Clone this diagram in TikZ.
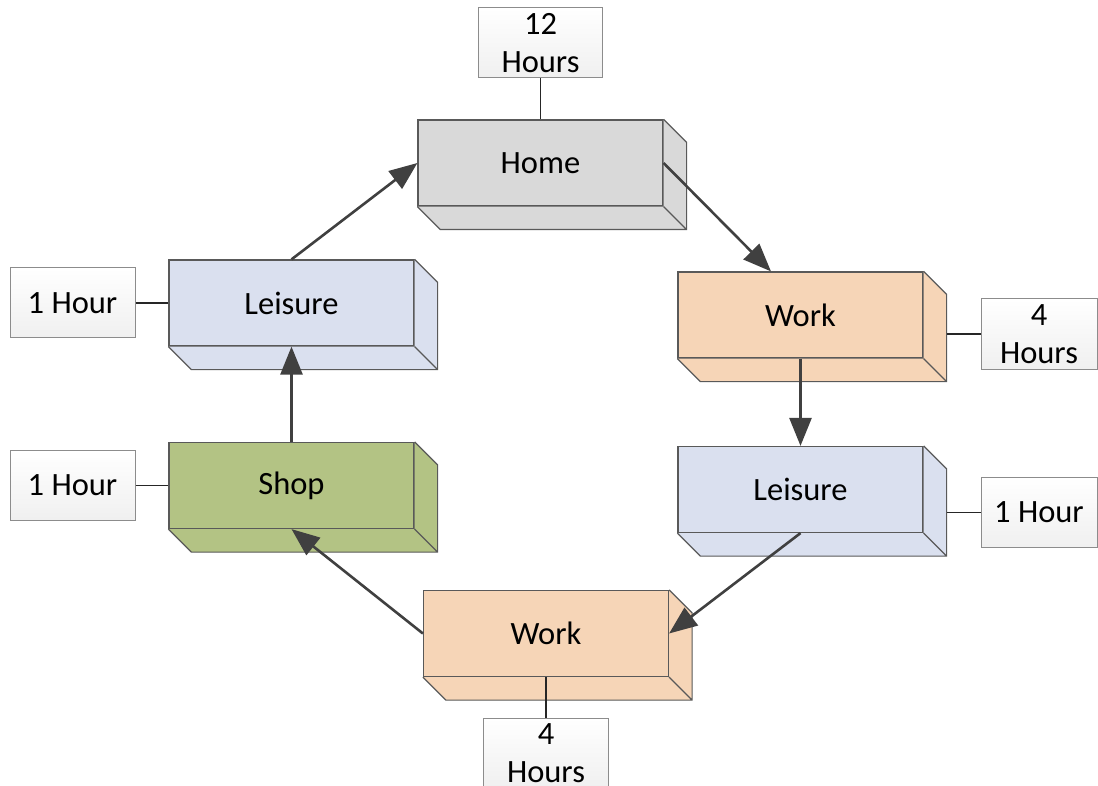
\documentclass[tikz,border=0pt]{standalone}
\usepackage{fontspec}
\setmainfont{Carlito}
\usetikzlibrary{arrows.meta,calc}
\definecolor{homefill}{HTML}{D9D9D9}
\definecolor{leisfill}{HTML}{DAE0EF}
\definecolor{shopfill}{HTML}{B3C384}
\definecolor{workfill}{HTML}{F6D5B7}
\definecolor{edge}{HTML}{595959}
\definecolor{tagedge}{HTML}{8C8C8C}
\definecolor{flow}{HTML}{404040}
\tikzset{
  block/.style={draw=edge, line width=1.2pt, fill=#1, minimum width=245pt,
    minimum height=86pt, inner sep=0pt, font=\fontsize{32.5}{38}\selectfont},
  tag/.style={draw=tagedge, line width=1pt, top color=white, bottom color=black!6,
    minimum width=124pt, minimum height=70pt, inner sep=0pt, align=center,
    font=\fontsize{32.5}{38}\selectfont},
  flowarrow/.style={draw=flow, line width=2.6pt,
    -{Triangle[length=28pt,width=22pt]}},
  tagline/.style={draw=black!85, line width=1.8pt},
}
% extruded faces (bottom and right) of a block node
\newcommand{\extrude}[2]{%
  \fill[#2] (#1.south west) -- ++(23,23) -- ($(#1.south east)+(23,23)$) --
    ($(#1.north east)+(23,23)$) -- (#1.north east) -- (#1.south east) -- cycle;
  \draw[edge, line width=1.2pt, line join=miter]
    (#1.south west) -- ++(23,23) -- ($(#1.south east)+(23,23)$) --
    ($(#1.north east)+(23,23)$) -- (#1.north east)
    (#1.south east) -- ++(23,23);
}
\begin{document}
\begin{tikzpicture}[x=1pt,y=-1pt]
\useasboundingbox (0,0) rectangle (1098,786);

% activity blocks
\node[block=homefill] (home)  at (540.5,163)   {Home};
\node[block=leisfill] (leisL) at (291.5,303)   {Leisure};
\node[block=shopfill] (shop)  at (291.5,485.5) {Shop};
\node[block=workfill] (workR) at (800.5,315)   {Work};
\node[block=leisfill] (leisR) at (800.5,489.5) {Leisure};
\node[block=workfill] (workB) at (546,633.5)   {Work};

\extrude{home}{homefill}
\extrude{leisL}{leisfill}
\extrude{shop}{shopfill}
\extrude{workR}{workfill}
\extrude{leisR}{leisfill}
\extrude{workB}{workfill}

% duration tags
\node[tag] (t12) at (540.5,43)     {12\\Hours};
\node[tag, minimum width=125pt] (t1a) at (72.5,303)   {1 Hour};
\node[tag, minimum width=125pt] (t1b) at (72.5,485.5) {1 Hour};
\node[tag, minimum width=116pt] (t4a) at (1039,334)   {4\\Hours};
\node[tag, minimum width=116pt] (t1c) at (1039,512.5) {1 Hour};
\node[tag, minimum width=125pt] (t4b) at (546,753)    {4\\Hours};

% tag connectors
\draw[tagline] (t12.south) -- (home.north);
\draw[tagline] (t1a.east) -- (leisL.west);
\draw[tagline] (t1b.east) -- (shop.west);
\draw[tagline] (t4a.west) -- ([xshift=23pt]workR.east |- t4a.west);
\draw[tagline] (t1c.west) -- ([xshift=23pt]leisR.east |- t1c.west);
\draw[tagline] (workB.south) -- (t4b.north);

% daily sequence
\draw[flowarrow] (leisL.north) -- (home.west);
\draw[flowarrow] (home.east) -- ([xshift=-29.5pt]workR.north);
\draw[flowarrow] (workR.south) -- (leisR.north);
\draw[flowarrow] (leisR.south) -- (workB.east);
\draw[flowarrow] (workB.west) -- (shop.south);
\draw[flowarrow] (shop.north) -- (leisL.south);
\end{tikzpicture}
\end{document}
